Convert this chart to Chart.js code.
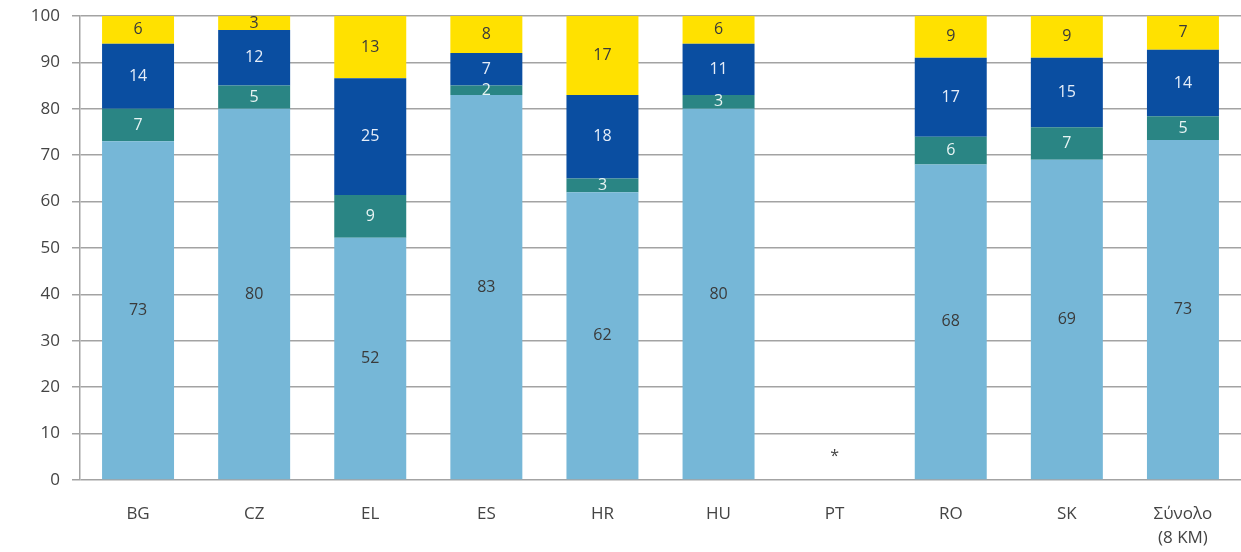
<!DOCTYPE html>
<html>
<head>
<meta charset="utf-8">
<script src="https://cdn.jsdelivr.net/npm/chart.js@4"></script>
<style>
  html, body { margin: 0; padding: 0; background: #fff; }
  #wrap { width: 1241px; height: 552px; position: relative; }
</style>
</head>
<body>
<div id="wrap"><canvas id="grafico"></canvas></div>
<script>
// categorías y series (de abajo hacia arriba)
var categorias = ['BG', 'CZ', 'EL', 'ES', 'HR', 'HU', 'PT', 'RO', 'SK', ['Σύνολο', '(8 KM)']];
var serieA = [73, 80, 52.2, 83, 62, 80, null, 68, 69, 73.3];
var serieB = [7, 5, 9.2, 2, 3, 3, null, 6, 7, 5.1];
var serieC = [14, 12, 25.2, 7, 18, 11, null, 17, 15, 14.3];
var serieD = [6, 3, 13.4, 8, 17, 6, null, 9, 9, 7.3];
var ticksY = [0, 10, 20, 30, 40, 50, 60, 70, 80, 90, 100];
var notaPT = '*';

var colores = ['#76b7d7', '#2a8584', '#0a4ea1', '#ffe100'];
var colorTexto = ['#3a3a3a', '#e8f4f4', '#e6eef9', '#3a3a3a'];
var fuente = '"Open Sans", "DejaVu Sans", sans-serif';

// etiquetas dentro de cada segmento (valor redondeado)
var etiquetas = {
    id: 'etiquetas',
    afterDatasetsDraw: function (chart) {
        var ctx = chart.ctx;
        ctx.save();
        ctx.font = '16px ' + fuente;
        ctx.textAlign = 'center';
        ctx.textBaseline = 'middle';
        chart.data.datasets.forEach(function (ds, i) {
            var meta = chart.getDatasetMeta(i);
            meta.data.forEach(function (bar, j) {
                var v = ds.data[j];
                if (v === null || v === undefined) return;
                ctx.fillStyle = colorTexto[i];
                ctx.fillText(String(Math.round(v)), bar.x, (bar.y + bar.base) / 2);
            });
        });
        // asterisco de PT
        var x = chart.scales.x.getPixelForValue(6);
        var y = chart.scales.y.getPixelForValue(5);
        ctx.fillStyle = '#444';
        ctx.font = '16px ' + fuente;
        ctx.fillText(notaPT, x, y);
        ctx.restore();
    }
};

var nombres = ['A', 'B', 'C', 'D'];
var series = [serieA, serieB, serieC, serieD];

new Chart(document.getElementById('grafico'), {
    type: 'bar',
    data: {
        labels: categorias,
        datasets: series.map(function (s, i) {
            return {
                label: nombres[i],
                data: s,
                backgroundColor: colores[i],
                borderWidth: 0,
                categoryPercentage: 1,
                barPercentage: 0.62
            };
        })
    },
    options: {
        responsive: true,
        maintainAspectRatio: false,
        animation: false,
        layout: { padding: { top: 16, right: 0, left: 2, bottom: 0 } },
        plugins: { legend: { display: false }, tooltip: { enabled: false } },
        scales: {
            x: {
                stacked: true,
                grid: { display: false },
                border: { display: false },
                afterFit: function (axis) { axis.height = 72; },
                ticks: { color: '#444', font: { family: fuente, size: 17, lineHeight: 1.4 }, padding: 14 }
            },
            y: {
                stacked: true,
                min: 0,
                max: 100,
                afterBuildTicks: function (axis) {
                    axis.ticks = ticksY.map(function (v) { return { value: v }; });
                },
                afterFit: function (axis) {
                    axis.width = 78;
                    axis.paddingTop = 0;
                    axis.paddingBottom = 0;
                },
                grid: { color: '#a3a3a3', lineWidth: 1.5, tickLength: 8 },
                border: { color: '#a3a3a3', width: 1.5 },
                ticks: { color: '#444', font: { family: fuente, size: 17 }, padding: 12 }
            }
        }
    },
    plugins: [etiquetas]
});
</script>
</body>
</html>
